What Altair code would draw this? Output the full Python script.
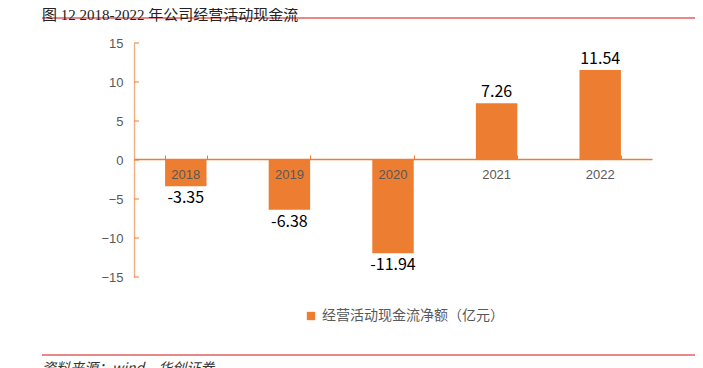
import altair as alt
import pandas as pd

years = ["2018", "2019", "2020", "2021", "2022"]
values = [-3.35, -6.38, -11.94, 7.26, 11.54]
labels = ["-3.35", "-6.38", "-11.94", "7.26", "11.54"]
series_name = "经营活动现金流净额（亿元）"
y_ticks = [-15, -10, -5, 0, 5, 10, 15]
title_text = "图 12 2018-2022 年公司经营活动现金流"
source_text = "资料来源：wind，华创证券"

df = pd.DataFrame({"year": years, "value": values, "label": labels, "series": series_name})
ticks_df = pd.DataFrame({"t": y_ticks})

ORANGE = "#ED7D31"
AXIS_ORANGE = "#F4B183"
RED = "#E06060"
GRAY = "#595959"

W, H = 518, 234
xscale = alt.Scale(domain=years, paddingInner=0.6, paddingOuter=0.3)
yscale = alt.Scale(domain=[-15, 15], nice=False, zero=False)

base = alt.Chart(df)

bars = base.mark_bar(color=ORANGE).encode(
    x=alt.X("year:N", scale=xscale, sort=years,
            axis=alt.Axis(orient="bottom", offset=-(H - 116), title=None, labelAngle=0,
                          labelColor=GRAY, labelFontSize=13, labelFont="Liberation Sans",
                          domain=False, ticks=False, labelPadding=9, zindex=2)),
    y=alt.Y("value:Q", scale=yscale,
            axis=alt.Axis(values=y_ticks, title=None, grid=False, labelColor=GRAY,
                          labelFontSize=13, labelFont="Liberation Sans", ticks=False,
                          labelPadding=11, domainColor=AXIS_ORANGE, domainWidth=1.5)),
    fill=alt.Fill("series:N", scale=alt.Scale(range=[ORANGE]),
                  legend=alt.Legend(orient="none", legendX=170, legendY=266, title=None,
                                    symbolType="square", symbolSize=70, labelFontSize=14,
                                    labelFont="Noto Sans CJK SC", labelColor=GRAY,
                                    labelLimit=400, symbolStrokeWidth=0)),
)

top_axis = base.mark_bar(opacity=0).encode(
    x=alt.X("year:N", scale=xscale, sort=years,
            axis=alt.Axis(orient="top", offset=-116, title=None, labels=False,
                          domainColor=ORANGE, domainWidth=1.5, tickColor=ORANGE,
                          tickBand="extent", tickSize=4, tickWidth=1, zindex=1)),
    y=alt.Y("value:Q", scale=yscale, axis=None),
)

ytick_marks = alt.Chart(ticks_df).mark_rule(color=ORANGE, strokeWidth=1).encode(
    y=alt.Y("t:Q", scale=yscale, axis=None),
    x=alt.value(0), x2=alt.value(5),
)

txt_pos = base.transform_filter("datum.value >= 0").mark_text(
    baseline="bottom", dy=-3, fontSize=16, font="Noto Sans CJK SC", color="#000000"
).encode(x=alt.X("year:N", scale=xscale, sort=years, axis=None),
         y=alt.Y("value:Q", scale=yscale, axis=None), text="label:N")

txt_neg = base.transform_filter("datum.value < 0").mark_text(
    baseline="top", dy=4, fontSize=16, font="Noto Sans CJK SC", color="#000000"
).encode(x=alt.X("year:N", scale=xscale, sort=years, axis=None),
         y=alt.Y("value:Q", scale=yscale, axis=None), text="label:N")

deco = pd.DataFrame({"a": [0]})
top_rule = alt.Chart(deco).mark_rule(color=RED, strokeWidth=1.5).encode(
    x=alt.value(-92), x2=alt.value(561), y=alt.value(-25))
bot_rule = alt.Chart(deco).mark_rule(color=RED, strokeWidth=1.5).encode(
    x=alt.value(-92), x2=alt.value(561), y=alt.value(312))
title_mark = alt.Chart(deco).mark_text(
    align="left", baseline="top", fontSize=15, font="Liberation Serif, Noto Sans CJK SC",
    color="#222222", text=title_text).encode(x=alt.value(-92), y=alt.value(-35))
source_mark = alt.Chart(deco).mark_text(
    align="left", baseline="top", fontSize=14, font="Noto Sans CJK SC", fontStyle="italic",
    color="#333333", text=source_text).encode(x=alt.value(-92), y=alt.value(319))

chart = alt.layer(bars, top_axis, ytick_marks, txt_pos, txt_neg, top_rule, bot_rule,
                  title_mark, source_mark).resolve_axis(x="independent", y="independent").properties(
    width=W, height=H,
    autosize=alt.AutoSizeParams(type="none"),
    padding={"left": 126, "top": 35, "right": 43, "bottom": 100},
).configure_view(stroke=None)

chart.save("out.html", embed_options={"renderer": "svg", "actions": False})
